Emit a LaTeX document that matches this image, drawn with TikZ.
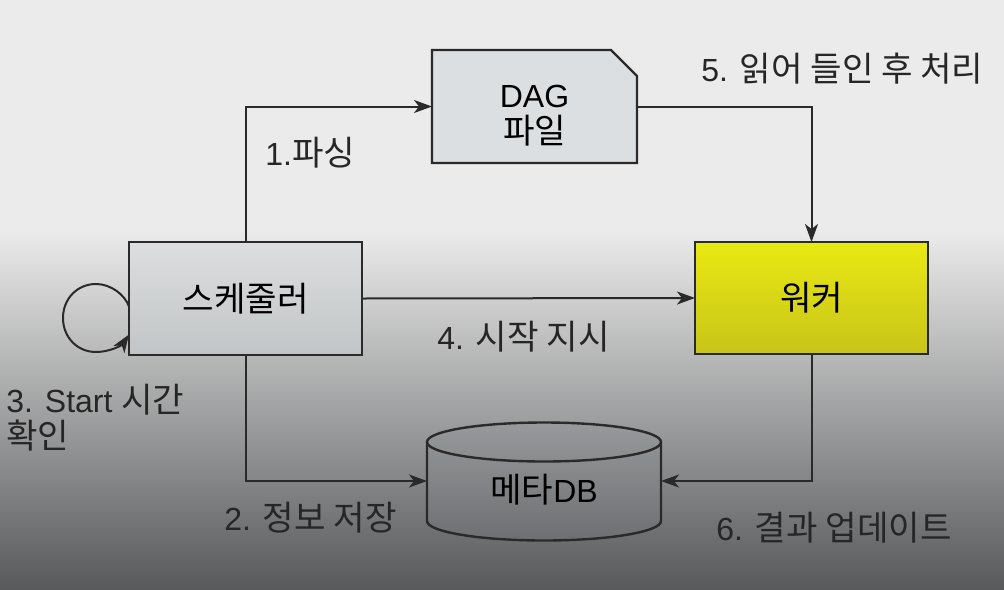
\documentclass[tikz,border=0pt]{standalone}
\usepackage{fontspec}
\setmainfont{Liberation Sans}
\newfontfamily\krfont[Scale=1.07]{Noto Sans CJK KR}
\usetikzlibrary{arrows.meta,shapes.misc}
\definecolor{linegray}{HTML}{2A2A2A}
\definecolor{bgtop}{HTML}{EBEBEB}
\definecolor{bgbottom}{HTML}{58595B}
\definecolor{boxtop}{HTML}{DCDEDF}
\definecolor{boxbottom}{HTML}{C2C5C7}
\definecolor{filegray}{HTML}{DCDFE1}
\definecolor{workertop}{HTML}{E9E912}
\definecolor{workerbottom}{HTML}{C8C41A}
\definecolor{dbtint}{HTML}{7A8590}

\begin{document}
\begin{tikzpicture}[x=0.5pt,y=-0.5pt,
	font=\fontsize{16pt}{18pt}\selectfont,
	box/.style={draw=linegray, line width=1.2pt, inner sep=0pt, outer sep=0pt, align=center},
	conn/.style={draw=linegray, line width=1pt, -{Stealth[length=9pt,width=6.5pt,inset=2.5pt]}},
	lbl/.style={anchor=west, inner sep=0pt, text=black!85}]
	% background
	\fill[bgtop] (0,0) rectangle (1004,230);
	\shade[top color=bgtop, bottom color=bgbottom] (0,230) rectangle (1004,589);
	\useasboundingbox (0,0) rectangle (1004,589);
	
	\node[box, minimum width=116.5pt, minimum height=56.5pt, top color=boxtop, bottom color=boxbottom] (sched) at (245.5,298.5) {{\krfont 스케줄러}};
	\node[box, chamfered rectangle, chamfered rectangle corners=north east, chamfered rectangle xsep=9.5pt, minimum width=102.5pt, minimum height=56.5pt, fill=filegray] (dag) at (534.5,106.5) {\rule{0pt}{20pt}DAG\\{\krfont 파일}};
	\node[box, minimum width=116.5pt, minimum height=56pt, top color=workertop, bottom color=workerbottom] (worker) at (811.5,298) {{\krfont 워커}};
	
	% metadb cylinder
	\filldraw[draw=linegray, line width=1.2pt, fill=dbtint, fill opacity=0.12] (427,442) -- (427,521) arc[start angle=180, end angle=0, x radius=117, y radius=19.5] -- (661,442) arc[start angle=0, end angle=-180, x radius=117, y radius=19.5] -- cycle;
	\draw[linegray, line width=1.2pt] (427,442) arc[start angle=180, end angle=0, x radius=117, y radius=19.5];
	\node[inner sep=0pt, outer sep=0pt, minimum width=117pt] (db) at (544,490) {{\krfont 메타}DB};
	
	\draw[conn] (sched.north) |- (dag.west);
	\draw[conn] (dag.east) -| (worker.north);
	\draw[conn] (sched.east) -- (worker.west);
	\draw[conn] (sched.south) |- ([yshift=4.5pt]db.west);
	\draw[conn] (worker.south) |- ([yshift=4.5pt]db.east);
	\draw[conn] ([yshift=-4pt]sched.west) .. controls (125,295) and (111,284) .. (96,284)
		.. controls (77,284) and (63,299) .. (63,318)
		.. controls (63,337) and (77,352) .. (96,352)
		.. controls (110,352) and (122,345) .. ([yshift=-18pt]sched.west);
	
	\node[lbl] (lblparse) at (265,153) {1.{\krfont 파싱}};
	\node[lbl] (lblread) at (701,69) {5. {\krfont 읽어 들인 후 처리}};
	\node[lbl] (lblstart) at (437,337) {4. {\krfont 시작 지시}};
	\node[lbl, align=left] (lblcheck) at (6,418) {3. Start {\krfont 시간}\\{\krfont 확인}};
	\node[lbl] (lblsave) at (224,518) {2. {\krfont 정보 저장}};
	\node[lbl] (lblupdate) at (716,528) {6. {\krfont 결과 업데이트}};
\end{tikzpicture}
\end{document}
